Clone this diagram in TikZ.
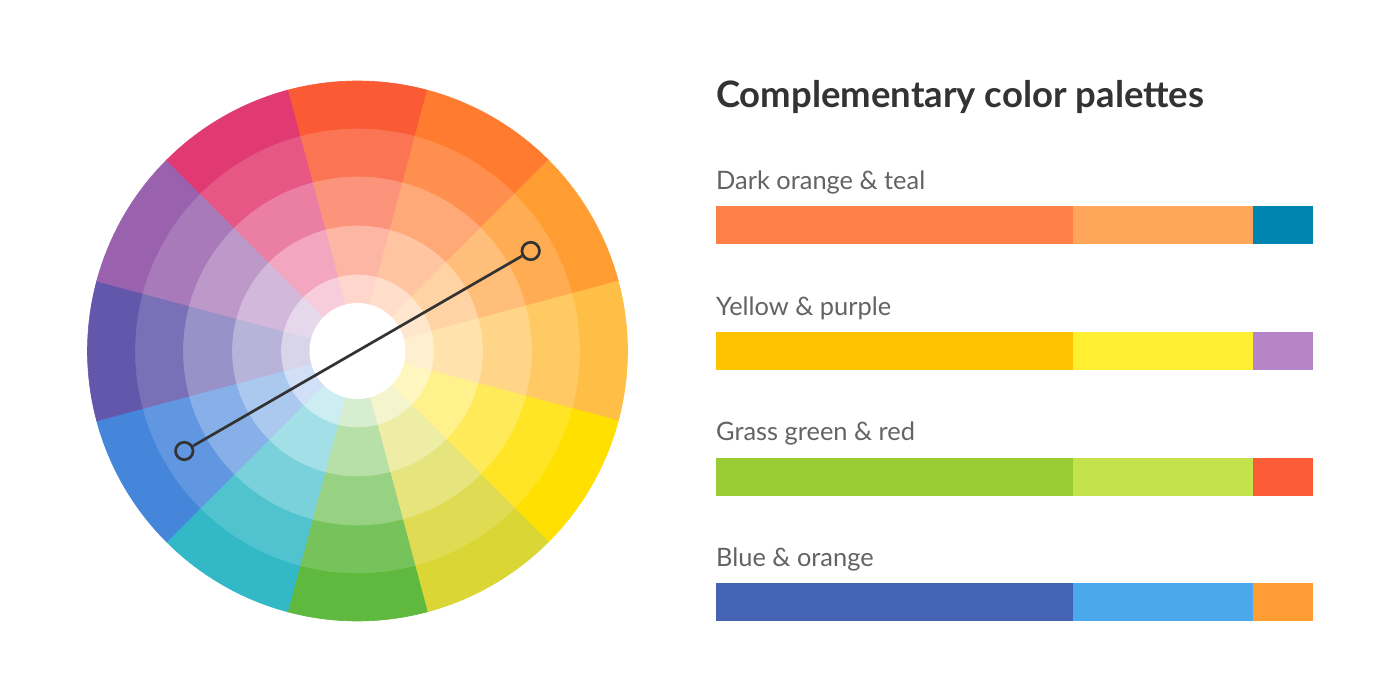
\documentclass[tikz,border=0pt]{standalone}
\usepackage{fontspec}
\setmainfont{Lato}
\definecolor{ink}{HTML}{333333}
\definecolor{labgray}{HTML}{636363}
% wheel base colours, clockwise from the top
\definecolor{wA}{HTML}{FA5B35}
\definecolor{wB}{HTML}{FF7B2F}
\definecolor{wC}{HTML}{FF9D33}
\definecolor{wD}{HTML}{FFBF47}
\definecolor{wE}{HTML}{FFE000}
\definecolor{wF}{HTML}{D9D636}
\definecolor{wG}{HTML}{5FB93E}
\definecolor{wH}{HTML}{32B8C7}
\definecolor{wI}{HTML}{4585DA}
\definecolor{wJ}{HTML}{6257AB}
\definecolor{wK}{HTML}{9A62AE}
\definecolor{wL}{HTML}{E13971}
% palette colours
\definecolor{pAa}{HTML}{FF7F48}
\definecolor{pAb}{HTML}{FFA65A}
\definecolor{pAc}{HTML}{0085B0}
\definecolor{pBa}{HTML}{FFC300}
\definecolor{pBb}{HTML}{FFEE32}
\definecolor{pBc}{HTML}{B585C8}
\definecolor{pCa}{HTML}{99CC33}
\definecolor{pCb}{HTML}{C4E24B}
\definecolor{pCc}{HTML}{FC5C35}
\definecolor{pDa}{HTML}{4563B3}
\definecolor{pDb}{HTML}{4BA8EA}
\definecolor{pDc}{HTML}{FF9C33}
\newlength\wtitle
\newlength\wlab
\begin{document}
\settowidth\wtitle{\bfseries\fontsize{30}{30}\selectfont Complementary color palettes}%
\settowidth\wlab{\fontsize{20}{20}\selectfont Dark orange \& teal}%
\pgfmathsetmacro\tsize{30*488/\wtitle}%
\pgfmathsetmacro\lsize{20*209/\wlab}%
\begin{tikzpicture}[x=1pt,y=1pt,
  endpt/.style={circle, draw=ink, line width=2.7pt, minimum size=17.5pt, inner sep=0pt},
  conn/.style={draw=ink, line width=2.7pt},
  titletext/.style={anchor=base west, inner sep=0pt, text=ink, font=\bfseries\fontsize{\tsize}{\tsize}\selectfont},
  labtext/.style={anchor=base west, inner sep=0pt, text=labgray, font=\fontsize{\lsize}{\lsize}\selectfont}]
\useasboundingbox (0,0) rectangle (1400,700);
\fill[white] (0,0) rectangle (1400,700);
% ---- colour wheel ----
\begin{scope}[shift={(357.5,349)}]
  \foreach \r/\p in {270/100,222/85,174/65,125/45,76/25} {
    \foreach \c [count=\i from 0] in {wA,wB,wC,wD,wE,wF,wG,wH,wI,wJ,wK,wL} {
      \pgfmathsetmacro\sa{90-30*\i-15}
      \pgfmathsetmacro\ea{90-30*\i+15}
      \fill[fill=\c!\p!white, draw=\c!\p!white, line width=0.6pt, line join=round]
        (0,0) -- (\sa:\r) arc[start angle=\sa, end angle=\ea, radius=\r] -- cycle;
    }
  }
  \fill[white] (0,0) circle (48);
  \node[endpt] (e1) at (30:200) {};
  \node[endpt] (e2) at (210:200) {};
  \draw[conn] (e1) -- (e2);
\end{scope}
% ---- title ----
\node[titletext] (title) at (716,592) {Complementary color palettes};
% ---- palettes ----
\foreach \T/\lab/\ca/\cb/\cc [count=\k] in {
   206.5/{Dark orange \& teal}/pAa/pAb/pAc,
   332.2/{Yellow \& purple}/pBa/pBb/pBc,
   457.9/{Grass green \& red}/pCa/pCb/pCc,
   583.5/{Blue \& orange}/pDa/pDb/pDc} {
  \pgfmathsetmacro\yt{700-\T}
  \pgfmathsetmacro\yb{700-\T-38}
  \pgfmathsetmacro\yl{700-\T+17}
  \node[labtext] (lab\k) at (716,\yl) {\lab};
  \fill[\ca] (716,\yb) rectangle (1073,\yt);
  \fill[\cb] (1073,\yb) rectangle (1252.5,\yt);
  \fill[\cc] (1252.5,\yb) rectangle (1313,\yt);
}
\end{tikzpicture}
\end{document}
